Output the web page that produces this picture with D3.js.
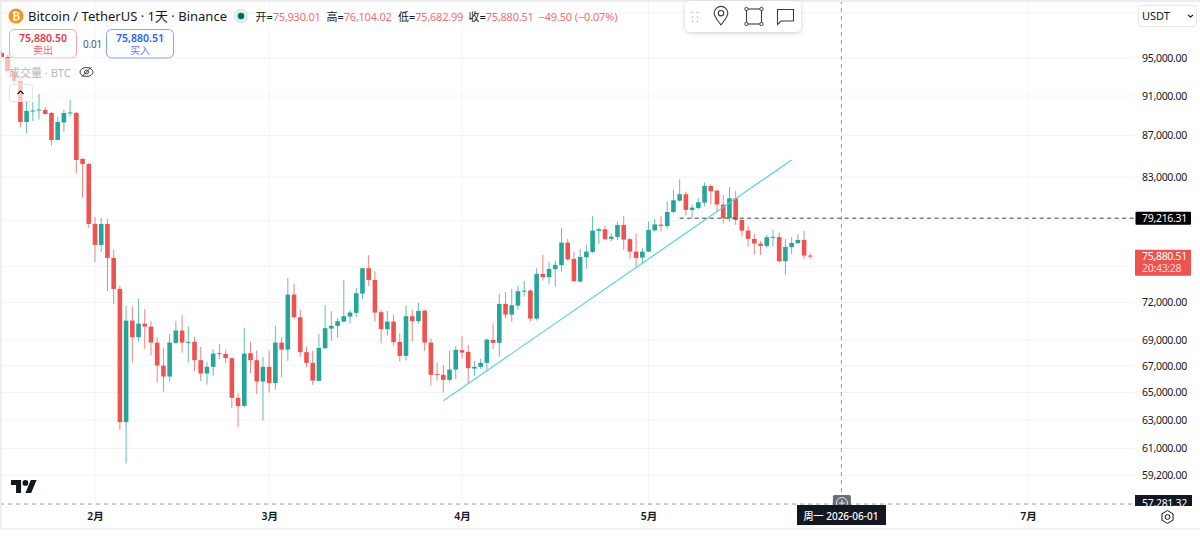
<!DOCTYPE html>
<html>
<head>
<meta charset="utf-8">
<title>BTCUSDT 1D</title>
<script src="https://cdn.jsdelivr.net/npm/d3@7"></script>
<style>
html,body{margin:0;padding:0;background:#fff;overflow:hidden}
svg{display:block}
text{font-family:"Noto Sans","Noto Sans CJK SC",sans-serif}
</style>
</head>
<body>
<svg id="chart" width="1200" height="536"></svg>
<script>
// Daily BTC/USDT candles, first session 2026-01-17
const firstSession = "2026-01-17";
const opens = [
  95540,95110,93505,92555,88353,89410,89512,89563,89259,86567,
  88303,89209,89259,84722,84244,78704,76853,78704,75727,73112,
  62859,70532,69216,70293,70054,68794,67023,66193,68771,69737,
  68794,68849,67435,66419,66924,67972,67918,67587,64613,64031,
  67972,67435,65819,66924,65700,68794,68250,72642,70803,68049,
  67229,65871,68358,69895,70109,70452,70852,71151,72725,74848,
  73862,71207,69847,70452,68849,67764,70884,70484,71336,68794,
  66377,66321,65946,66720,68204,68072,66795,66924,67229,69005,
  68771,71880,71013,71741,72890,72972,70691,74367,74088,74763,
  75103,77054,75642,73721,75787,76245,78082,78232,77377,77552,
  78615,77351,76271,75753,76271,78126,78642,78508,79782,80811,
  81400,79963,80144,80628,82169,81733,80446,79213,81030,79061,
  78109,77377,76966,76766,77490,77552,75445,76652,77002,77290,
  75930.01];
const closes = [
  95110,93610,92555,88353,89461,89512,89613,89158,86567,88353,
  89259,89310,84627,84244,78704,76853,78704,75727,73112,62859,
  70532,69216,70293,70054,68794,67023,66193,68794,69737,68794,
  68849,67435,66419,66924,67941,67941,67587,64613,64009,67941,
  67435,65819,66924,65700,68794,68250,72642,70803,68049,67229,
  65894,68381,69926,70109,70484,70884,71175,72758,74848,73862,
  71175,69847,70452,68826,67764,70884,70484,71312,68794,66321,
  66346,65946,66720,68227,68018,66825,66924,67229,69027,68771,
  71880,71013,71774,72923,72972,70691,74367,74088,74789,75129,
  77054,75616,73754,75813,76271,78109,78232,77351,77579,78615,
  77316,76271,75727,76271,78170,78660,78526,79782,80848,81400,
  79963,80171,80665,82169,81677,80446,79213,81030,79061,78109,
  77377,76966,76766,77526,77552,75445,76678,77028,77290,75930,
  75880.51];
const highs = [
  95760,95320,93720,92870,90379,90379,91199,89867,89360,88885,
  89563,90583,89360,84818,84340,79330,79240,79150,76418,73362,
  71717,71660,72264,71449,70484,69216,68358,69453,70484,70965,
  70085,69240,68459,67305,68281,68670,68227,67664,64959,69950,
  68826,68173,67687,68173,70109,69216,74004,73529,71393,68482,
  68150,69477,71774,71288,70747,73862,71336,73170,74873,75960,
  74594,71393,71312,71013,69532,71774,71393,71987,71393,69106,
  67252,67076,68150,68537,69319,68615,67381,67534,69106,70293,
  72700,72840,73112,73362,73779,73088,74848,75982,75411,75471,
  78320,77377,76245,76505,76880,79421,78374,78526,77879,78910,
  79421,77490,77879,76617,78910,79151,79421,80720,81797,82795,
  81640,80481,81030,82478,82291,81797,81335,82047,81705,79124,
  78552,77790,77202,77729,78170,77932,77351,77526,77817,78082,
  76104.02];
const lows = [
  95000,93400,92240,87852,87258,88453,88603,89057,86010,86518,
  87356,88885,83390,81086,78347,75385,76245,72948,71880,62312,
  59977,67252,68872,68304,67787,65745,65077,65819,68716,67995,
  67252,66600,65849,65595,66246,67511,67206,63863,62503,63936,
  66449,64886,62973,65004,65203,66148,67381,70643,67710,66901,
  65574,65819,68304,68950,69161,70373,70325,70803,72264,73362,
  70452,68748,69342,68537,67328,67404,68872,70325,68150,65521,
  65894,65004,65775,65998,67557,65700,66246,66750,66645,68281,
  67710,70691,70428,71393,72477,70452,70532,73804,73504,73303,
  74561,75471,73721,73721,74814,76133,76940,77263,77176,77263,
  76418,75642,74848,75274,76245,78020,78020,78259,79665,80720,
  79448,79151,80026,80263,80446,79810,78731,78910,78615,77579,
  76704,76012,75986,76565,76704,75326,74280,76072,76941,75642,
  75682.99];

// Grid levels, and the ones that carry a label (the rest sit under tags)
const priceGrid = [100000,95000,91000,87000,83000,79000,75000,72000,69000,67000,65000,63000,61000,59200];
const priceLabels = [95000,91000,87000,83000,72000,69000,67000,65000,63000,61000,59200];
const monthGrid = ["2026-02-01","2026-03-01","2026-04-01","2026-05-01","2026-06-01","2026-07-01"];
const monthTicks = ["2026-02-01","2026-03-01","2026-04-01","2026-05-01","2026-07-01"];
const monthLabels = ["2月","3月","4月","5月","7月"];

// User drawings and cursor state
const trendDates = ["2026-03-29","2026-05-24"];
const trendPrices = [64395,84627];
const alertDate = "2026-05-06";
const alertPrice = 79216.31;
const cursorDate = "2026-06-01";
const cursorPrice = 57281.32;
const lastPrice = 75880.51;

const legendItems = [
  {key:"开",value:"75,930.01"},
  {key:"高",value:"76,104.02"},
  {key:"低",value:"75,682.99"},
  {key:"收",value:"75,880.51"}
];

const INK = "#131722", UP = "#26a69a", DOWN = "#ef5350", GRID = "#f3f4f6";
const AXIS_X = 1134, TIME_Y = 505;
const AXIS_FONT = 10.5, AXIS_SPACING = -0.3;

const fmt = d3.format(",.2f");
const day = s => new Date(s + "T00:00:00Z");
const x = d3.scaleUtc().domain([day("2026-02-01"), day("2026-07-01")]).range([95, 1028]);
const y = d3.scaleLog().domain([95000, 59200]).range([58, 475]);

const candles = opens.map((o, i) => ({
  date: d3.utcDay.offset(day(firstSession), i),
  o, c: closes[i], h: highs[i], l: lows[i]
}));

const svg = d3.select("#chart");
svg.append("rect").attr("width", 1200).attr("height", 536).attr("fill", "#fff");

const defs = svg.append("defs");
defs.append("clipPath").attr("id", "pane").append("rect")
  .attr("x", 0).attr("y", 0).attr("width", AXIS_X).attr("height", TIME_Y);
const shadow = defs.append("filter").attr("id", "toolShadow")
  .attr("x", "-20%").attr("y", "-30%").attr("width", "140%").attr("height", "170%");
shadow.append("feDropShadow").attr("dx", 0).attr("dy", 1).attr("stdDeviation", 2.2)
  .attr("flood-color", "#000").attr("flood-opacity", 0.2);

// Grid
const pane = svg.append("g").attr("clip-path", "url(#pane)");
pane.append("g").selectAll("line").data(priceGrid).join("line")
  .attr("x1", 0).attr("x2", AXIS_X).attr("y1", d => y(d)).attr("y2", d => y(d))
  .attr("stroke", GRID);
pane.append("g").selectAll("line").data(monthGrid).join("line")
  .attr("x1", d => x(day(d))).attr("x2", d => x(day(d))).attr("y1", 0).attr("y2", TIME_Y)
  .attr("stroke", GRID);

// Candles
const candle = pane.append("g").selectAll("g").data(candles).join("g");
candle.append("line")
  .attr("x1", d => x(d.date)).attr("x2", d => x(d.date))
  .attr("y1", d => y(d.h)).attr("y2", d => y(d.l))
  .attr("stroke", d => d.c >= d.o ? UP : DOWN)
  .attr("stroke-opacity", 0.72);
candle.append("rect")
  .attr("x", d => x(d.date) - 2.3).attr("width", 4.6)
  .attr("y", d => Math.min(y(d.o), y(d.c)))
  .attr("height", d => Math.max(1, Math.abs(y(d.o) - y(d.c))))
  .attr("fill", d => d.c >= d.o ? UP : DOWN);

// Trend line
pane.append("path")
  .datum(trendDates.map((d, i) => [x(day(d)), y(trendPrices[i])]))
  .attr("d", d3.line())
  .attr("fill", "none").attr("stroke", "#56d3e6").attr("stroke-width", 1.2);

// Price marker line
pane.append("line")
  .attr("x1", x(day(alertDate))).attr("x2", AXIS_X)
  .attr("y1", y(alertPrice)).attr("y2", y(alertPrice))
  .attr("stroke", "#3a3d45").attr("stroke-dasharray", "4 3.5");

// Crosshair
pane.append("line")
  .attr("x1", x(day(cursorDate))).attr("x2", x(day(cursorDate)))
  .attr("y1", 0).attr("y2", y(cursorPrice))
  .attr("stroke", "#9a9ca5").attr("stroke-dasharray", "4 4");
pane.append("line")
  .attr("x1", 0).attr("x2", AXIS_X)
  .attr("y1", y(cursorPrice)).attr("y2", y(cursorPrice))
  .attr("stroke", "#9a9ca5").attr("stroke-dasharray", "4 4");

// Logo in the pane corner
const tv = svg.append("g").attr("transform", "translate(11,477.2) scale(0.72)").attr("fill", INK);
tv.append("path").attr("d", "M14 22H7V11H0V4h14v18zM28 22h-8l7.5-18h8L28 22z");
tv.append("circle").attr("cx", 20).attr("cy", 8).attr("r", 4);

// Price axis
const priceAxis = d3.axisRight(y)
  .tickValues(priceLabels).tickSize(0).tickPadding(0)
  .tickFormat(d => fmt(d));
const gy = svg.append("g").attr("transform", "translate(1142,0)").call(priceAxis);
gy.select(".domain").remove();
gy.selectAll("text")
  .attr("fill", INK).attr("font-size", AXIS_FONT).attr("letter-spacing", AXIS_SPACING)
  .attr("style", 'font-family:"Noto Sans",sans-serif');

// Time axis strip covers anything running below the pane
svg.append("rect").attr("x", 0).attr("y", TIME_Y).attr("width", 1200).attr("height", 31).attr("fill", "#fff");
const timeAxis = d3.axisBottom(x)
  .tickValues(monthTicks.map(day)).tickSize(0).tickPadding(0)
  .tickFormat((d, i) => monthLabels[i]);
const gx = svg.append("g").attr("transform", "translate(0,513)").call(timeAxis);
gx.select(".domain").remove();
gx.selectAll("text").attr("fill", INK).attr("font-size", 10.5).attr("font-weight", 600);

// Price axis labels
const tagY = y(alertPrice);
svg.append("rect").attr("x", 1135.5).attr("y", tagY - 6.5).attr("width", 55.5).attr("height", 13).attr("rx", 1).attr("fill", "#000");
svg.append("text").attr("x", 1142).attr("y", tagY + 4).attr("fill", "#fff")
  .attr("font-size", AXIS_FONT).attr("letter-spacing", AXIS_SPACING).text(fmt(alertPrice));

const lastY = y(lastPrice);
svg.append("rect").attr("x", 1135).attr("y", lastY - 6.5).attr("width", 56).attr("height", 26)
  .attr("rx", 1).attr("fill", DOWN);
svg.append("text").attr("x", 1142).attr("y", lastY + 4).attr("fill", "#fff")
  .attr("font-size", AXIS_FONT).attr("letter-spacing", AXIS_SPACING).text(fmt(lastPrice));
svg.append("text").attr("x", 1142).attr("y", lastY + 16).attr("fill", "#fff").attr("fill-opacity", 0.8)
  .attr("font-size", AXIS_FONT).attr("letter-spacing", AXIS_SPACING).text("20:43:28");

// Cursor price tag, cut off by the time axis
const cursorClip = defs.append("clipPath").attr("id", "cursorTag");
cursorClip.append("rect").attr("x", 1130).attr("y", 490).attr("width", 70).attr("height", 16);
const cursorTag = svg.append("g").attr("clip-path", "url(#cursorTag)");
cursorTag.append("rect").attr("x", 1135).attr("y", 495).attr("width", 57).attr("height", 18).attr("fill", INK);
cursorTag.append("text").attr("x", 1142).attr("y", 507).attr("fill", "#fff")
  .attr("font-size", AXIS_FONT).attr("letter-spacing", AXIS_SPACING).text(fmt(cursorPrice));

// Crosshair plus button, half hidden by the date tag
const px = x(day(cursorDate));
svg.append("rect").attr("x", px - 8.5).attr("y", 495).attr("width", 18).attr("height", 12).attr("rx", 1.5).attr("fill", "#6a6d78");
svg.append("circle").attr("cx", px + 0.5).attr("cy", 503).attr("r", 5.5).attr("fill", "none").attr("stroke", "#e8e8ea");
svg.append("path").attr("d", `M${px + 0.5} 500V506M${px - 2.5} 503H${px + 3.5}`).attr("stroke", "#e8e8ea");

// Date tag
svg.append("rect").attr("x", 797).attr("y", 505).attr("width", 89).attr("height", 20).attr("fill", INK);
svg.append("text").attr("x", 841).attr("y", 520).attr("text-anchor", "middle").attr("fill", "#fff")
  .attr("font-size", 10).attr("font-weight", 500).text("周一 2026-06-01");

// Settings glyph
svg.append("path")
  .attr("d", d3.line()(d3.range(6).map(k => [1167.5 + 6.4 * Math.sin(k * Math.PI / 3), 517 + 6.4 * Math.cos(k * Math.PI / 3)])) + "Z")
  .attr("fill", "none").attr("stroke", INK).attr("stroke-width", 1).attr("stroke-linejoin", "round");
svg.append("circle").attr("cx", 1167.5).attr("cy", 517).attr("r", 2.4).attr("fill", "none").attr("stroke", INK).attr("stroke-width", 1);

// Window edges
svg.append("rect").attr("x", 0).attr("y", 0).attr("width", 1200).attr("height", 2).attr("fill", "#ececec");
svg.append("rect").attr("x", 0).attr("y", 0).attr("width", 1.5).attr("height", 529).attr("fill", "#ececec");
svg.append("rect").attr("x", 0).attr("y", 528).attr("width", 1200).attr("height", 1.5).attr("fill", "#efefef");

// Header
svg.append("circle").attr("cx", 16).attr("cy", 16).attr("r", 7.5).attr("fill", "#f7931a");
svg.append("text").attr("x", 16).attr("y", 19.5).attr("text-anchor", "middle").attr("fill", "#fff")
  .attr("font-size", 10).attr("font-weight", 700).attr("style", 'font-family:"DejaVu Sans",sans-serif').text("₿");
svg.append("text").attr("x", 28).attr("y", 21).attr("fill", INK).attr("font-size", 13)
  .text("Bitcoin / TetherUS · 1天 · Binance");

svg.append("circle").attr("cx", 241).attr("cy", 16).attr("r", 7.5).attr("fill", "#d9efeb");
svg.append("circle").attr("cx", 241).attr("cy", 16).attr("r", 3.2).attr("fill", "#006b5e");

const VALUE_RED = "#f76c72";
const legendX = [255.5, 326.5, 398, 468.5];
legendItems.forEach((it, i) => {
  const t = svg.append("text").attr("x", legendX[i]).attr("y", 20.5).attr("font-size", 11);
  t.append("tspan").attr("fill", INK).text(it.key + "=");
  t.append("tspan").attr("fill", VALUE_RED).attr("letter-spacing", -0.25).text(it.value);
});
svg.append("text").attr("x", 538.5).attr("y", 20.5).attr("font-size", 11).attr("letter-spacing", -0.15).attr("fill", VALUE_RED)
  .text("−49.50 (−0.07%)");

// Order buttons
function orderButton(x0, stroke, priceColor, labelColor, price, label) {
  svg.append("rect").attr("x", x0 + 0.5).attr("y", 29.5).attr("width", 67).attr("height", 28.5).attr("rx", 5)
    .attr("fill", "#fff").attr("stroke", stroke);
  svg.append("text").attr("x", x0 + 34).attr("y", 42).attr("text-anchor", "middle")
    .attr("font-size", 10.5).attr("font-weight", 600).attr("fill", priceColor).text(price);
  svg.append("text").attr("x", x0 + 34).attr("y", 54).attr("text-anchor", "middle")
    .attr("font-size", 10).attr("fill", labelColor).text(label);
}
orderButton(9, "#f7a3aa", "#f23645", "#f4656f", "75,880.50", "卖出");
orderButton(106, "#82a5ff", "#2962ff", "#5b86ff", "75,880.51", "买入");
svg.append("text").attr("x", 83).attr("y", 47.5).attr("font-size", 10).attr("letter-spacing", -0.2).attr("fill", "#50535e").text("0.01");

// Volume legend over the candles
svg.append("rect").attr("x", 6).attr("y", 58).attr("width", 90).attr("height", 26).attr("fill", "#fff").attr("fill-opacity", 0.62);
svg.append("text").attr("x", 9).attr("y", 77).attr("font-size", 11).attr("fill", "#b4b6bd").text("成交量 · BTC");
const eye = svg.append("g").attr("fill", "none").attr("stroke", "#3c3f47").attr("stroke-width", 1);
eye.append("ellipse").attr("cx", 86.5).attr("cy", 72).attr("rx", 6.5).attr("ry", 4.5);
eye.append("circle").attr("cx", 86.5).attr("cy", 72).attr("r", 2);
eye.append("path").attr("d", "M81.5 77L91.5 67");

svg.append("rect").attr("x", 9.5).attr("y", 84.5).attr("width", 23).attr("height", 17).attr("rx", 3)
  .attr("fill", "#fff").attr("fill-opacity", 0.68).attr("stroke", "#e2e3e7");
svg.append("path").attr("d", "M17.5 94L20.5 91L23.5 94").attr("fill", "none").attr("stroke", INK).attr("stroke-width", 1.2);

// Floating drawing toolbar
svg.append("rect").attr("x", 685).attr("y", 1).attr("width", 116).attr("height", 31).attr("rx", 5)
  .attr("fill", "#fff").attr("filter", "url(#toolShadow)");
svg.append("g").selectAll("circle").data(d3.cross([692.5, 697.5], [12.5, 17, 21.5])).join("circle")
  .attr("cx", d => d[0]).attr("cy", d => d[1]).attr("r", 0.8).attr("fill", "#b2b5be");
const tools = svg.append("g").attr("fill", "none").attr("stroke", "#3a3d45").attr("stroke-width", 1.1);
tools.append("path").attr("d", "M721 25C717 19.5 714.2 16.5 714.2 13.2A6.8 6.8 0 0 1 727.8 13.2C727.8 16.5 725 19.5 721 25Z");
tools.append("circle").attr("cx", 721).attr("cy", 13.2).attr("r", 2.7);
tools.append("rect").attr("x", 746.5).attr("y", 9).attr("width", 15).attr("height", 15);
svg.append("g").selectAll("circle").data(d3.cross([746.5, 761.5], [9, 24])).join("circle")
  .attr("cx", d => d[0]).attr("cy", d => d[1]).attr("r", 1.7)
  .attr("fill", "#fff").attr("stroke", "#3a3d45");
tools.append("path").attr("d", "M777.5 9.5H793.5V21H781L777.5 24.5Z");

// Currency selector
svg.append("rect").attr("x", 1138.5).attr("y", 5.5).attr("width", 58).attr("height", 21).attr("rx", 3)
  .attr("fill", "#fff").attr("stroke", "#e6e7eb");
svg.append("text").attr("x", 1142).attr("y", 20).attr("font-size", 11).attr("fill", INK).text("USDT");
svg.append("path").attr("d", "M1188 15L1190.5 17L1193 15").attr("fill", "none").attr("stroke", INK).attr("stroke-width", 1.1);
</script>
</body>
</html>
